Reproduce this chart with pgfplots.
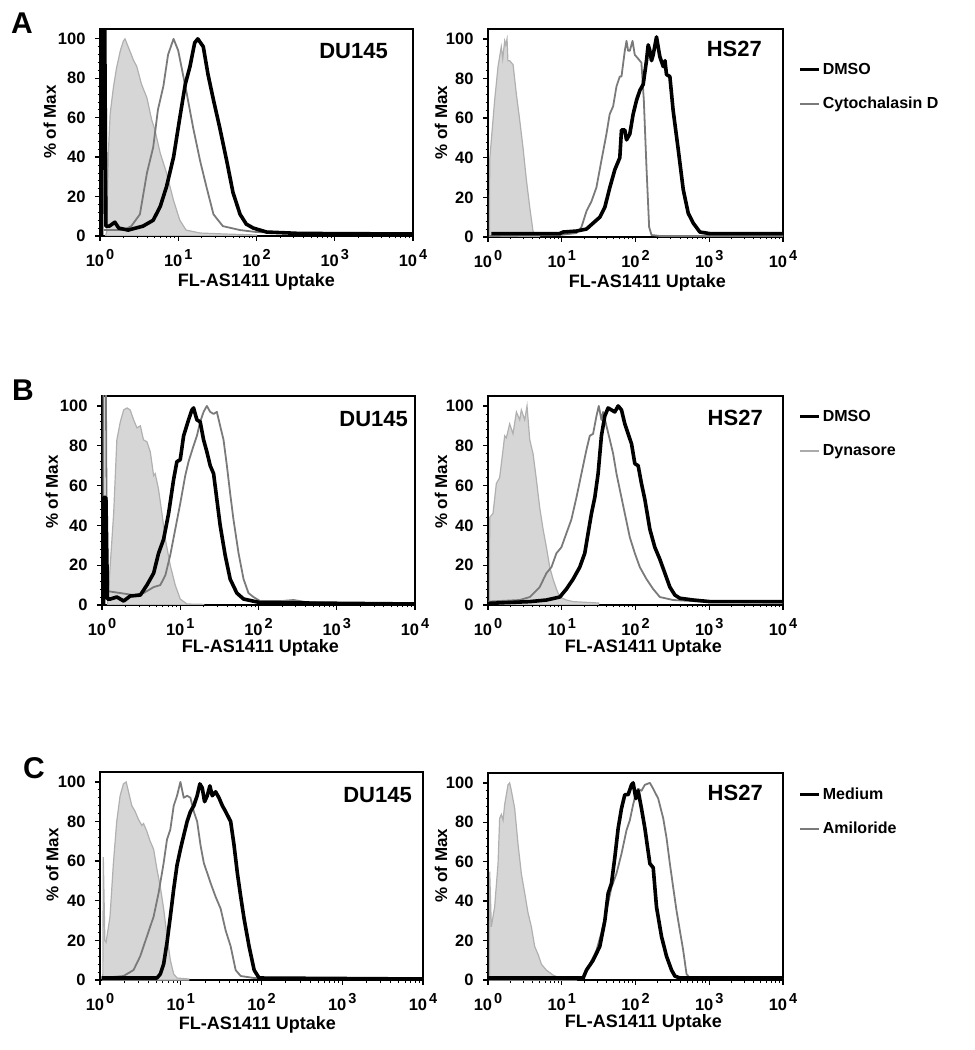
\documentclass[border=0pt]{standalone}
\usepackage{fontspec}
\setmainfont{Liberation Sans}
\usepackage{pgfplots}
\pgfplotsset{compat=1.18}
\definecolor{shadefill}{HTML}{D6D6D6}
\definecolor{shadeline}{HTML}{B0B0B0}
\definecolor{treat}{HTML}{7A7A7A}
\definecolor{treatB}{HTML}{ABABAB}
\newcommand{\dec}[1]{10\hspace{2pt}\raisebox{6.5pt}{\fontsize{14.5}{14.5}\selectfont #1}}
\tikzset{
 blk/.style={black, line width=3.6pt, line join=round},
 gry/.style={treat, line width=1.8pt, line join=round},
 shd/.style={fill=shadefill, draw=shadeline, line width=1.2pt},
 ttl/.style={font=\fontsize{22}{22}\selectfont\bfseries, anchor=east, inner sep=0pt},
}
\pgfplotsset{
 fc/.style={
  scale only axis, anchor=south west,
  xmin=0, xmax=4, ymin=0, ymax=105,
  axis line style={line width=1.6pt},
  xtick={0,1,2,3,4},
  xticklabels={\dec{0},\dec{1},\dec{2},\dec{3},\dec{4}},
  minor xtick={0.301,0.477,0.602,0.699,0.778,0.845,0.903,0.954,
               1.301,1.477,1.602,1.699,1.778,1.845,1.903,1.954,
               2.301,2.477,2.602,2.699,2.778,2.845,2.903,2.954,
               3.301,3.477,3.602,3.699,3.778,3.845,3.903,3.954},
  ytick={0,20,40,60,80,100}, minor y tick num=4,
  tick align=outside, tick pos=left,
  major tick length=5pt, minor tick length=2.5pt,
  tick style={black, line width=1.3pt},
  minor tick style={black, line width=0.8pt},
  tick label style={font=\fontsize{16.5}{16.5}\selectfont\bfseries},
  xticklabel style={yshift=-5pt},
  yticklabel style={xshift=-6pt},
  /pgf/number format/assume math mode=true,
  xlabel={FL-AS1411 Uptake}, ylabel={\% of Max},
  every axis x label/.style={at={(axis description cs:0.5,0)}, anchor=center, yshift=-46pt, font=\fontsize{18}{18}\selectfont\bfseries},
  every axis y label/.style={at={(axis description cs:-0.16,0.55)}, rotate=90, anchor=center, font=\fontsize{17}{17}\selectfont\bfseries},
  legend image code/.code={\draw[##1] (0pt,0pt) -- (19pt,0pt);},
  legend style={draw=none, fill=none, font=\fontsize{16}{16}\selectfont\bfseries,
    inner sep=0pt, row sep=15pt, cells={anchor=west},
    nodes={inner sep=2pt, text height=12pt, text depth=3pt},
    at={(axis description cs:1,1)}, anchor=north west, xshift=15pt},
 },
}
\begin{document}
\begin{tikzpicture}
\useasboundingbox (0pt,0pt) rectangle (975pt,1050pt);
\node[font=\fontsize{30}{30}\selectfont\bfseries] at (22pt,1027pt) {A};
\node[font=\fontsize{30}{30}\selectfont\bfseries] at (23pt,660pt) {B};
\node[font=\fontsize{30}{30}\selectfont\bfseries] at (34pt,282pt) {C};

% ---------- A left ----------
\begin{axis}[fc, at={(100pt,814pt)}, width=313pt, height=207pt]
\addplot[shd] coordinates {(0.07,0) (0.085,2) (0.11,45) (0.13,62) (0.17,75) (0.21,85) (0.26,94) (0.3,99) (0.32,100) (0.36,96) (0.43,89) (0.47,86) (0.53,77) (0.6,70) (0.66,59) (0.7,54) (0.77,42) (0.85,32) (0.94,18) (1.02,8) (1.1,3) (1.28,1.5) (1.6,1) (2,0.5)} \closedcycle;
\addplot[gry] coordinates {(0.05,3) (0.3,3) (0.4,5) (0.51,11) (0.6,32) (0.68,45) (0.74,64) (0.81,76) (0.87,92) (0.94,100) (1.0,94) (1.04,86) (1.11,72) (1.19,55) (1.28,38) (1.36,25) (1.45,11) (1.57,5) (1.79,3) (2.0,2) (2.5,1.5) (4,1)};
\addplot[blk] coordinates {(0.02,0) (0.02,110) (0.06,110) (0.075,5) (0.12,5) (0.19,7) (0.24,4) (0.36,3) (0.55,5) (0.68,8) (0.77,15) (0.85,25) (0.94,40) (1.02,60) (1.09,77) (1.15,86) (1.21,98) (1.25,100) (1.32,96) (1.38,82) (1.45,69) (1.53,55) (1.62,38) (1.7,22) (1.79,11) (1.87,6) (1.96,4) (2.13,2) (2.55,1.3) (4,1)};
\node[ttl] at (rel axis cs:0.92,0.894) {DU145};
\end{axis}

% ---------- A right ----------
\begin{axis}[fc, at={(488pt,813pt)}, width=295pt, height=208pt,
  legend style={yshift=-31pt},
  every axis y label/.append style={at={(axis description cs:-0.159,0.55)}},
  every axis x label/.append style={xshift=12pt}]
\addlegendimage{blk}\addlegendentry{DMSO}
\addlegendimage{gry}\addlegendentry{Cytochalasin D}
\addplot[shd, forget plot] coordinates {(0.02,0) (0.023,39) (0.09,69) (0.136,86) (0.18,96) (0.2,90) (0.226,99) (0.24,97) (0.258,100) (0.27,89) (0.294,89) (0.34,87) (0.385,72) (0.43,59) (0.475,45) (0.52,29) (0.566,15) (0.61,3) (0.633,1) (0.7,0.5)} \closedcycle;
\addplot[gry, forget plot] coordinates {(0.02,0.5) (0.97,1) (1.2,2) (1.267,5) (1.335,13) (1.403,18) (1.47,25) (1.54,39) (1.606,52) (1.65,62) (1.697,66) (1.742,76) (1.787,81) (1.81,81) (1.855,94) (1.878,99) (1.9,94) (1.923,94) (1.96,99) (1.99,92) (2.036,90) (2.08,88) (2.113,69) (2.149,35) (2.185,5) (2.217,1) (2.33,0.5) (4,0.5)};
\addplot[blk, forget plot] coordinates {(0.045,1.7) (0.97,1.7) (1.018,2.5) (1.2,3) (1.335,4) (1.425,7) (1.516,10) (1.584,15) (1.652,25) (1.72,34) (1.787,40) (1.81,54) (1.855,54) (1.878,49) (1.923,52) (1.968,62) (2.014,69) (2.059,74) (2.104,77) (2.149,89) (2.172,97) (2.195,94) (2.217,89) (2.24,92) (2.285,101) (2.33,91) (2.376,86) (2.4,89) (2.42,82) (2.466,81) (2.51,64) (2.58,44) (2.647,24) (2.715,12) (2.783,7) (2.873,2.5) (3.009,1.7) (4,1.7)};
\node[ttl] at (rel axis cs:0.929,0.904) {HS27};
\end{axis}

% ---------- B left ----------
\begin{axis}[fc, at={(102pt,445pt)}, width=313pt, height=209pt,
  every axis y label/.append style={at={(axis description cs:-0.16,0.54)}},
  every axis x label/.append style={xshift=2pt, yshift=3pt}]
\addplot[shd] coordinates {(0.07,0) (0.085,8) (0.149,46) (0.19,83) (0.234,92) (0.277,98) (0.32,99) (0.36,98) (0.404,93) (0.447,89) (0.49,90) (0.53,83) (0.574,82) (0.617,77) (0.66,65) (0.68,66) (0.723,58) (0.766,46) (0.81,33) (0.872,20) (0.936,10) (1.0,3) (1.085,0.5) (1.3,0.3)} \closedcycle;
\addplot[gry] coordinates {(0.02,0) (0.02,110) (0.05,110) (0.064,7) (0.234,6) (0.404,5) (0.532,6) (0.66,9) (0.745,10) (0.81,15) (0.872,25) (0.936,38) (1.0,51) (1.064,65) (1.106,72) (1.17,80) (1.213,85) (1.255,92) (1.298,97) (1.34,100) (1.383,97) (1.426,96) (1.468,97) (1.51,90) (1.553,83) (1.596,70) (1.638,56) (1.68,43) (1.745,26) (1.809,13) (1.872,6) (1.936,4) (2.02,2) (2.3,2) (2.447,2.5) (2.6,1.5) (2.957,1) (4,1)};
\addplot[blk] coordinates {(0.02,0) (0.02,54) (0.05,54) (0.07,3) (0.106,3) (0.19,4) (0.277,2) (0.36,4.5) (0.49,5) (0.574,10) (0.66,16) (0.723,26) (0.787,33) (0.851,46) (0.915,63) (0.957,72) (1.0,73) (1.043,85) (1.106,93) (1.149,98) (1.17,99) (1.213,93) (1.255,92) (1.298,83) (1.34,77) (1.383,70) (1.426,66) (1.468,53) (1.51,40) (1.574,25) (1.638,13) (1.723,6) (1.809,3) (2.02,1.2) (4,0.5)};
\node[ttl] at (rel axis cs:0.978,0.89) {DU145};
\end{axis}

% ---------- B right ----------
\begin{axis}[fc, at={(488pt,445pt)}, width=295pt, height=209pt,
  legend style={yshift=-11pt},
  every axis y label/.append style={at={(axis description cs:-0.159,0.54)}},
  every axis x label/.append style={xshift=8pt, yshift=3pt}]
\addlegendimage{blk}\addlegendentry{DMSO}
\addlegendimage{treatB, line width=1.8pt}\addlegendentry{Dynasore}
\addplot[shd, forget plot] coordinates {(0.02,0) (0.023,44) (0.068,46) (0.113,61) (0.158,64) (0.204,78) (0.226,85) (0.249,84) (0.294,91) (0.339,86) (0.385,97) (0.43,93) (0.452,98) (0.498,93) (0.529,100) (0.566,83) (0.611,76) (0.656,63) (0.701,49) (0.747,38) (0.792,29) (0.837,19) (0.882,13) (0.928,8) (0.973,4) (1.063,2.5) (1.154,1.7) (1.5,1)} \closedcycle;
\addplot[gry, forget plot] coordinates {(0,1.7) (0.43,2.5) (0.566,4) (0.701,9) (0.792,16) (0.86,19) (0.928,26) (0.995,29) (1.063,36) (1.131,43) (1.199,54) (1.267,66) (1.335,78) (1.38,85) (1.425,86) (1.471,95) (1.502,100) (1.538,93) (1.561,97) (1.606,90) (1.652,83) (1.697,76) (1.742,66) (1.787,58) (1.855,46) (1.923,34) (1.991,26) (2.059,19) (2.149,13) (2.24,8) (2.33,4) (2.511,2.5) (2.919,1.7) (4,1.2)};
\addplot[blk, forget plot] coordinates {(0,0.8) (0.566,1.7) (0.792,2.5) (0.973,4) (1.063,8) (1.154,13) (1.244,19) (1.312,26) (1.357,36) (1.403,46) (1.448,54) (1.493,66) (1.538,85) (1.584,95) (1.629,99) (1.674,98) (1.719,97) (1.765,100) (1.81,98) (1.855,91) (1.9,86) (1.946,81) (1.991,71) (2.036,70) (2.081,61) (2.127,53) (2.195,38) (2.262,29) (2.33,23) (2.398,16) (2.466,9) (2.534,5) (2.602,3.4) (2.783,2.5) (3.009,1.7) (4,1.7)};
\node[ttl] at (rel axis cs:0.932,0.895) {HS27};
\end{axis}

% ---------- C left ----------
\begin{axis}[fc, at={(100pt,70pt)}, width=323pt, height=208pt,
  every axis y label/.append style={at={(axis description cs:-0.148,0.553)}},
  every axis x label/.append style={xshift=-4pt, yshift=1pt}]
\addplot[shd] coordinates {(0.035,0) (0.041,62) (0.06,20) (0.075,19) (0.124,32) (0.166,59) (0.207,80) (0.249,93) (0.29,99) (0.324,100) (0.353,95) (0.394,88) (0.436,85) (0.477,81) (0.519,78) (0.539,79) (0.581,75) (0.622,70) (0.664,66) (0.705,56) (0.747,47) (0.788,36) (0.83,22) (0.871,10) (0.913,3) (0.954,1) (1.1,0.5)} \closedcycle;
\addplot[gry] coordinates {(0.02,1) (0.29,2) (0.415,5) (0.498,12) (0.581,22) (0.664,32) (0.726,44) (0.788,59) (0.83,71) (0.871,76) (0.913,88) (0.954,93) (0.996,100) (1.037,92) (1.079,93) (1.12,92) (1.162,85) (1.203,80) (1.245,68) (1.286,59) (1.328,54) (1.369,49) (1.432,42) (1.494,36) (1.556,25) (1.618,17) (1.68,5) (1.743,2) (1.909,1) (4,0.8)};
\addplot[blk] coordinates {(0.02,1) (0.705,1) (0.747,3) (0.788,8) (0.83,19) (0.871,32) (0.913,46) (0.954,58) (0.996,66) (1.037,73) (1.079,80) (1.12,85) (1.162,88) (1.203,93) (1.237,99) (1.266,97) (1.295,90) (1.328,93) (1.361,98) (1.39,93) (1.432,95) (1.473,92) (1.515,88) (1.556,85) (1.618,80) (1.66,68) (1.701,54) (1.743,42) (1.784,31) (1.846,17) (1.909,5) (1.971,1) (4,0.5)};
\node[ttl] at (rel axis cs:0.966,0.889) {DU145};
\end{axis}

% ---------- C right ----------
\begin{axis}[fc, at={(488pt,70pt)}, width=295pt, height=207pt,
  legend style={yshift=-12pt},
  every axis y label/.append style={at={(axis description cs:-0.159,0.553)}},
  every axis x label/.append style={xshift=8pt, yshift=3pt}]
\addlegendimage{blk}\addlegendentry{Medium}
\addlegendimage{gry}\addlegendentry{Amiloride}
\addplot[shd, forget plot] coordinates {(0.02,0) (0.023,55) (0.045,27) (0.09,37) (0.136,59) (0.158,82) (0.181,84) (0.204,81) (0.226,89) (0.249,94) (0.271,99) (0.294,100) (0.317,96) (0.362,87) (0.407,69) (0.452,54) (0.498,44) (0.543,34) (0.588,27) (0.633,17) (0.679,13) (0.724,8) (0.792,5) (0.882,2.5) (0.973,1) (1.2,0.5)} \closedcycle;
\addplot[gry, forget plot] coordinates {(0,0.5) (1.29,1) (1.38,8) (1.471,15) (1.538,24) (1.606,35) (1.674,47) (1.742,54) (1.81,64) (1.878,76) (1.923,81) (1.968,89) (2.014,96) (2.036,97) (2.081,96) (2.127,99) (2.195,100) (2.24,97) (2.308,92) (2.376,82) (2.421,72) (2.466,59) (2.511,47) (2.557,35) (2.602,25) (2.647,15) (2.692,3) (2.738,1) (4,0.5)};
\addplot[blk, forget plot] coordinates {(0,1) (1.29,1) (1.335,5) (1.425,10) (1.516,17) (1.584,30) (1.629,44) (1.674,49) (1.719,62) (1.765,77) (1.81,87) (1.855,94) (1.9,94) (1.946,99) (1.968,100) (2.005,92) (2.036,96) (2.081,87) (2.127,77) (2.195,59) (2.24,57) (2.285,37) (2.353,22) (2.421,12) (2.489,5) (2.534,2) (2.602,1) (4,1)};
\node[ttl] at (rel axis cs:0.932,0.903) {HS27};
\end{axis}
\end{tikzpicture}
\end{document}
